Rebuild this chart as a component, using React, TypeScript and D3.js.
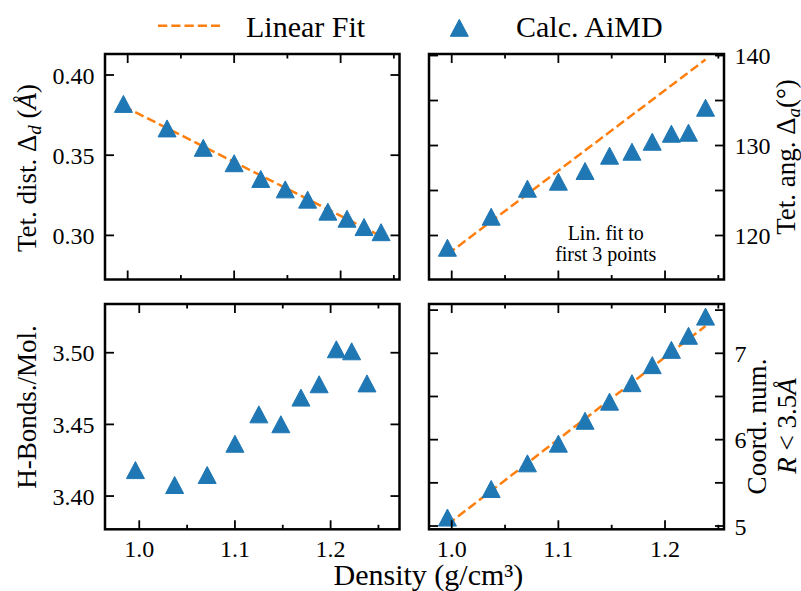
import React from 'react';
import * as d3 from 'd3';

// ---------- data ----------
const density = [0.996, 1.037, 1.071, 1.1, 1.125, 1.148, 1.169, 1.188, 1.206, 1.222, 1.238];
const tetDist = [0.382, 0.3667, 0.3546, 0.345, 0.3352, 0.3287, 0.3223, 0.3148, 0.3104, 0.3052, 0.302];
const tetAng = [118.64, 122.09, 125.2, 125.98, 127.17, 128.87, 129.31, 130.42, 131.31, 131.42, 134.2];
const hBonds = [3.4181, 3.4077, 3.4147, 3.4365, 3.457, 3.4501, 3.4687, 3.478, 3.5024, 3.501, 3.4786];
const coordNum = [5.098, 5.429, 5.726, 5.954, 6.219, 6.44, 6.654, 6.863, 7.04, 7.203, 7.425];

const fitX = [0.996, 1.238];
const fitTetDist = [0.3806, 0.2995];
const fitTetAng = [117.9, 139.55];
const fitCoord = [5.017, 7.316];

const xMajorTicks = [1.0, 1.1, 1.2];
const xMinorTicks = [1.05, 1.15, 1.25];
const tetDistTicks = [0.3, 0.35, 0.4];
const tetAngTicks = [120, 125, 130, 135, 140];
const tetAngLabels = [120, 130, 140];
const hBondTicks = [3.4, 3.45, 3.5];
const coordTicks = [5, 5.5, 6, 6.5, 7, 7.5];
const coordLabels = [5, 6, 7];

const BLUE = '#1f77b4';
const ORANGE = '#ff7f0e';
const FONT = '"Liberation Serif", "Times New Roman", serif';

const TRI_W = 18;
const TRI_H = 17;
const triPath = (cx: number, cy: number) =>
  `M${cx},${cy - TRI_H / 2}L${cx - TRI_W / 2},${cy + TRI_H / 2}L${cx + TRI_W / 2},${cy + TRI_H / 2}Z`;

type PanelProps = {
  left: number; top: number; right: number; bottom: number;
  xDomain: [number, number]; yDomain: [number, number];
  yTicks: number[]; yLabels: number[]; yFormat: (v: number) => string;
  side: 'left' | 'right';
  showX: boolean;
  ys: number[];
  fit?: number[];
};

const MAJ = 9;
const MIN = 4.5;

function Panel(p: PanelProps) {
  const x = d3.scaleLinear().domain(p.xDomain).range([p.left, p.right]);
  const y = d3.scaleLinear().domain(p.yDomain).range([p.bottom, p.top]);
  const line = d3.line<[number, number]>().x(d => x(d[0])).y(d => y(d[1]));
  const fitData: [number, number][] | null = p.fit ? fitX.map((v, i) => [v, p.fit![i]] as [number, number]) : null;
  const tickStroke = { stroke: '#000', strokeWidth: 1.8 };
  return (
    <g>
      {fitData && (
        <path d={line(fitData) || ''} fill="none" stroke={ORANGE} strokeWidth={2.5} strokeDasharray="9.25,4" />
      )}
      {density.map((d, i) => (
        <path key={i} d={triPath(x(d), y(p.ys[i]))} fill={BLUE} stroke={BLUE} strokeWidth={1} strokeLinejoin="miter" />
      ))}
      {xMajorTicks.map(t => (
        <g key={'xm' + t}>
          <line x1={x(t)} x2={x(t)} y1={p.bottom} y2={p.bottom - MAJ} {...tickStroke} />
          <line x1={x(t)} x2={x(t)} y1={p.top} y2={p.top + MAJ} {...tickStroke} />
          {p.showX && (
            <text x={x(t)} y={556.5} textAnchor="middle" fontSize={24} fontFamily={FONT}>{t.toFixed(1)}</text>
          )}
        </g>
      ))}
      {xMinorTicks.filter(t => t <= p.xDomain[1]).map(t => (
        <g key={'xn' + t}>
          <line x1={x(t)} x2={x(t)} y1={p.bottom} y2={p.bottom - MIN} {...tickStroke} />
          <line x1={x(t)} x2={x(t)} y1={p.top} y2={p.top + MIN} {...tickStroke} />
        </g>
      ))}
      {p.yTicks.map(t => (
        <g key={'y' + t}>
          <line x1={p.left} x2={p.left + MAJ} y1={y(t)} y2={y(t)} {...tickStroke} />
          <line x1={p.right} x2={p.right - MAJ} y1={y(t)} y2={y(t)} {...tickStroke} />
        </g>
      ))}
      {p.yLabels.map(t => (
        <text key={'yl' + t}
          x={p.side === 'left' ? p.left - 10.5 : p.right + 10.5}
          y={y(t) + 8.5}
          textAnchor={p.side === 'left' ? 'end' : 'start'}
          fontSize={24} fontFamily={FONT}>{p.yFormat(t)}</text>
      ))}
      <rect x={p.left} y={p.top} width={p.right - p.left} height={p.bottom - p.top}
        fill="none" stroke="#000" strokeWidth={2.5} />
    </g>
  );
}

export default function App() {
  const L = [105, 399.5];
  const R = [429, 724];
  const T = [54, 279.5];
  const B = [304, 529.3];
  const xDom: [number, number] = [0.9787, 1.2553];
  return (
    <svg width={801} height={591} style={{ position: 'absolute', left: 0, top: 0, background: '#fff' }}
      fontFamily={FONT}>
      <rect x={0} y={0} width={801} height={591} fill="#fff" />
      {/* legend */}
      <line x1={158} x2={220} y1={25.7} y2={25.7} stroke={ORANGE} strokeWidth={2.5} strokeDasharray="9.25,4" />
      <text x={246} y={36.7} fontSize={30}>Linear Fit</text>
      <path d={triPath(459.3, 27.8)} fill={BLUE} stroke={BLUE} strokeWidth={1} />
      <text x={516} y={36.7} fontSize={30}>Calc. AiMD</text>

      <Panel left={L[0]} right={L[1]} top={T[0]} bottom={T[1]} xDomain={xDom} yDomain={[0.2725, 0.4131]}
        yTicks={tetDistTicks} yLabels={tetDistTicks} yFormat={v => v.toFixed(2)} side="left" showX={false}
        ys={tetDist} fit={fitTetDist} />
      <Panel left={R[0]} right={R[1]} top={T[0]} bottom={T[1]} xDomain={xDom} yDomain={[115.11, 140.17]}
        yTicks={tetAngTicks} yLabels={tetAngLabels} yFormat={v => String(v)} side="right" showX={false}
        ys={tetAng} fit={fitTetAng} />
      <Panel left={L[0]} right={L[1]} top={B[0]} bottom={B[1]} xDomain={[0.9642, 1.272]} yDomain={[3.3768, 3.534]}
        yTicks={hBondTicks} yLabels={hBondTicks} yFormat={v => v.toFixed(2)} side="left" showX={true}
        ys={hBonds} />
      <Panel left={R[0]} right={R[1]} top={B[0]} bottom={B[1]} xDomain={xDom} yDomain={[4.962, 7.571]}
        yTicks={coordTicks} yLabels={coordLabels} yFormat={v => String(v)} side="right" showX={true}
        ys={coordNum} fit={fitCoord} />

      {/* annotation */}
      <text x={605.7} y={240} textAnchor="middle" fontSize={20}>Lin. fit to</text>
      <text x={605.7} y={261} textAnchor="middle" fontSize={20}>first 3 points</text>

      {/* y labels */}
      <text transform="translate(35.5,168) rotate(-90)" textAnchor="middle" fontSize={27}>
        Tet. dist. Δ<tspan fontStyle="italic" fontSize={19} dy={5}>d</tspan><tspan dy={-5}> (</tspan><tspan fontStyle="italic">Å</tspan>)
      </text>
      <text transform="translate(35.5,407) rotate(-90)" textAnchor="middle" fontSize={27}>H-Bonds./Mol.</text>
      <text transform="translate(795,157) rotate(-90)" textAnchor="middle" fontSize={27}>
        Tet. ang. Δ<tspan fontStyle="italic" fontSize={19} dy={5}>a</tspan><tspan dy={-5}>(°)</tspan>
      </text>
      <text transform="translate(765.5,426.5) rotate(-90)" textAnchor="middle" fontSize={27}>Coord. num.</text>
      <text transform="translate(795.5,426) rotate(-90)" textAnchor="middle" fontSize={27}>
        <tspan fontStyle="italic">R</tspan> &lt; 3.5<tspan fontStyle="italic">Å</tspan>
      </text>

      {/* x label */}
      <text x={428.4} y={585} textAnchor="middle" fontSize={30}>Density (g/cm³)</text>
    </svg>
  );
}
